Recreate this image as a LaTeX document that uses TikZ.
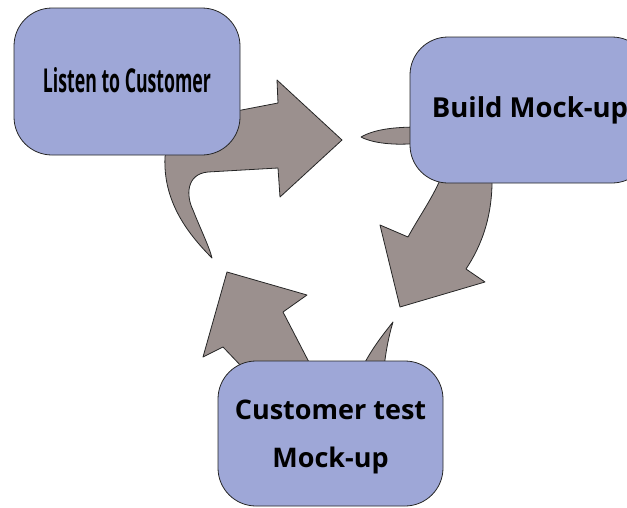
\documentclass[tikz,border=0pt]{standalone}
\usepackage{fontspec}
\setmainfont{Open Sans}
\usepackage{graphicx}
\definecolor{boxblue}{RGB}{158,167,215}
\definecolor{arrowgray}{RGB}{155,144,142}

\begin{document}
\begin{tikzpicture}[x=1pt, y=-1pt, line join=round,
		stepbox/.style={draw=black!85, fill=boxblue, line width=0.8pt, rounded corners=38pt, inner sep=0pt},
		bigarrow/.style={draw=black!85, fill=arrowgray, line width=0.8pt}]
	% Picture window (pixel units, y pointing down)
	\useasboundingbox (0,0) rectangle (627,507);
	\clip (0,0) rectangle (627,507);
	
	% Curved arrows first, so that the boxes hide their roots
	% Listen -> Build
	\draw[bigarrow] (200,118) -- (278,103) -- (277,80) -- (342,140) -- (280,197) -- (278,168)
		-- (208,172) .. controls (186,174) and (186,196) .. (193,210)
		.. controls (200,228) and (209,246) .. (212,258)
		.. controls (186,232) and (163,200) .. (165,157)
		-- (170,125) -- cycle;
	% Build -> Customer test
	\draw[bigarrow] (361,137) .. controls (375,129) and (395,127) .. (420,127) -- (480,130) -- (492,175)
		.. controls (493,215) and (482,245) .. (466,269) -- (485,282) -- (400,307) -- (380,225) -- (408,237)
		.. controls (420,215) and (434,196) .. (442,175) -- (420,143)
		.. controls (395,146) and (372,143) .. (361,137) -- cycle;
	% Customer test -> Listen
	\draw[bigarrow] (393,322) .. controls (389,335) and (386,350) .. (384,368) -- (360,400) -- (290,398)
		-- (243,368) -- (223,347) -- (203,357) -- (227,272) -- (307,295) -- (283,312) -- (312,368)
		-- (362,368) .. controls (372,348) and (385,332) .. (393,322) -- cycle;
	
	% The three steps
	\node[stepbox, minimum width=226pt, minimum height=147pt] (listen) at (127,81.5)
		{\raisebox{4pt}{\resizebox{168pt}{25pt}{\bfseries Listen to Customer}}};
	\node[stepbox, minimum width=240pt, minimum height=146pt, font=\bfseries\fontsize{27.5}{35}\selectfont] (build) at (530,110)
		{Build Mock-up};
	\node[stepbox, minimum width=225pt, minimum height=145pt, font=\bfseries\fontsize{27}{48}\selectfont] (test) at (330.5,433.5)
		{\raisebox{-3pt}{\begin{tabular}{@{}c@{}}Customer test\\Mock-up\end{tabular}}};
\end{tikzpicture}
\end{document}
